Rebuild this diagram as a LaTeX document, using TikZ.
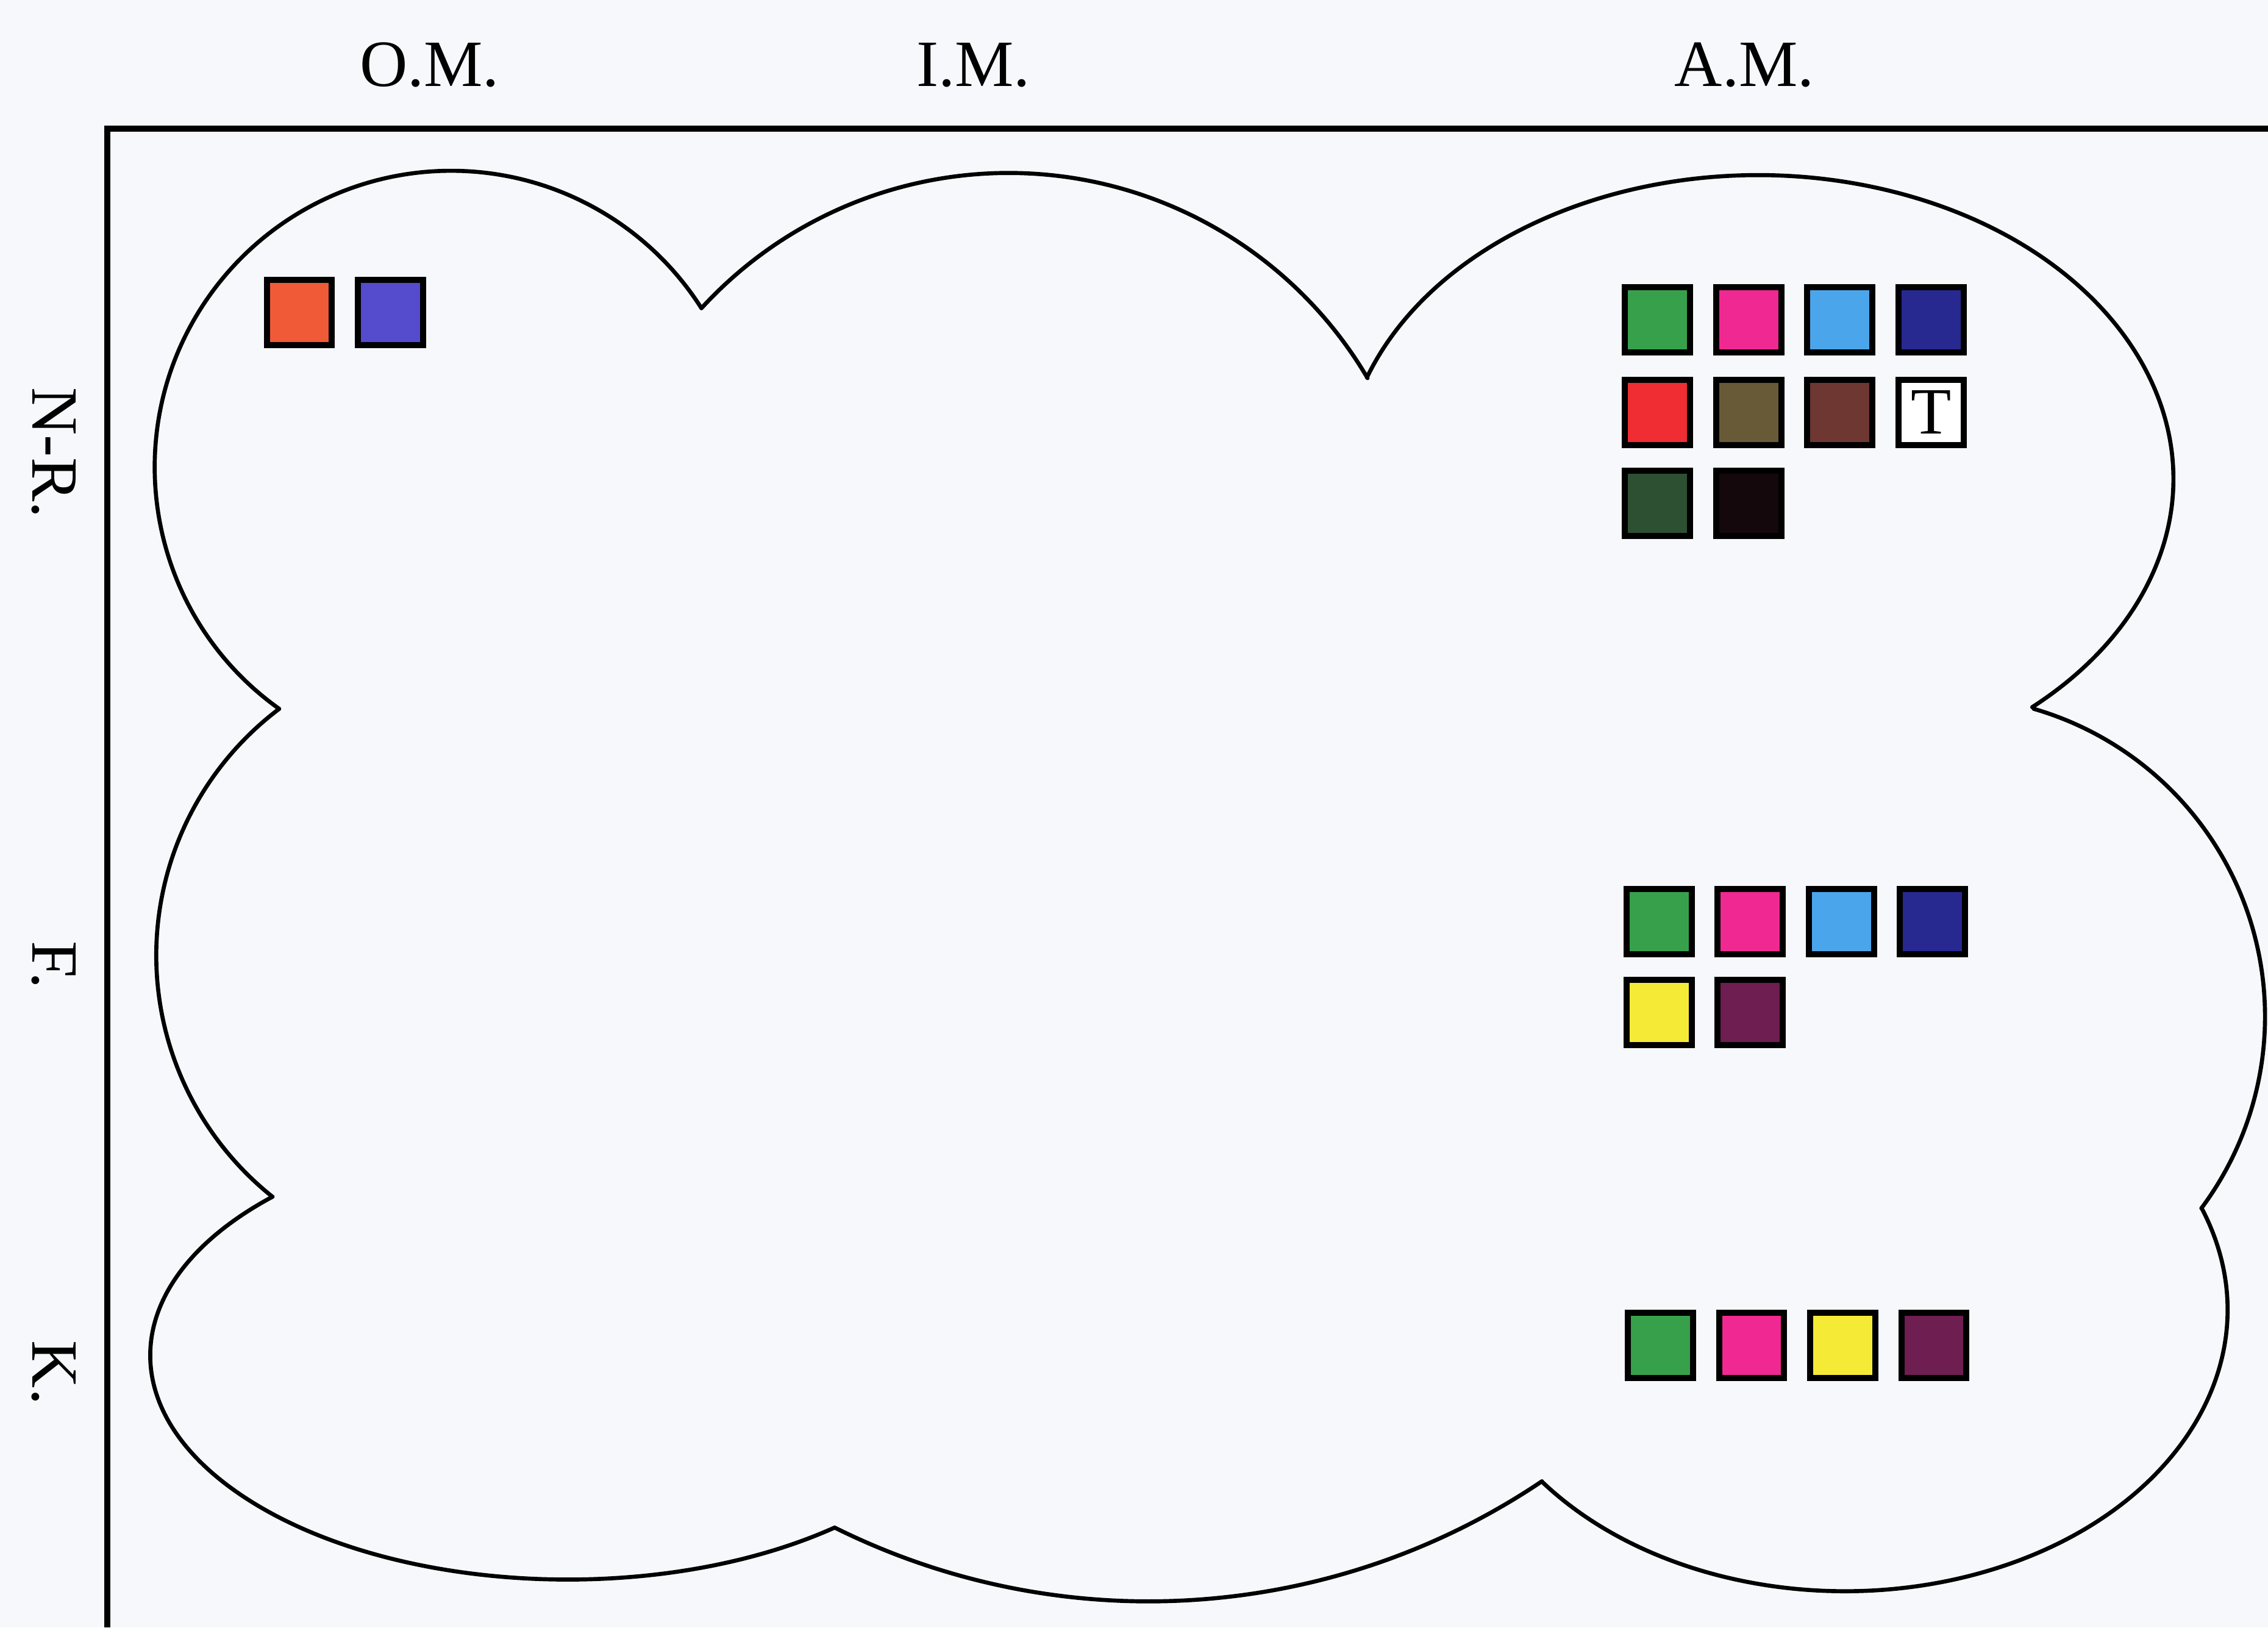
\documentclass[tikz,border=0pt]{standalone}
\usepackage{fontspec}
\setmainfont{Liberation Serif}
\usepackage{tikz}
\definecolor{PaperWhite}{RGB}{246,248,251}
\definecolor{ChipOrange}{RGB}{240,90,55}
\definecolor{ChipViolet}{RGB}{85,75,205}
\definecolor{ChipGreen}{RGB}{55,160,75}
\definecolor{ChipPink}{RGB}{240,40,145}
\definecolor{ChipSky}{RGB}{75,165,235}
\definecolor{ChipNavy}{RGB}{40,40,145}
\definecolor{ChipRed}{RGB}{240,45,50}
\definecolor{ChipOlive}{RGB}{105,90,55}
\definecolor{ChipBrown}{RGB}{110,55,50}
\definecolor{ChipForest}{RGB}{45,80,50}
\definecolor{ChipBlack}{RGB}{20,8,12}
\definecolor{ChipYellow}{RGB}{245,235,55}
\definecolor{ChipPlum}{RGB}{110,30,80}
\tikzset{
    frameline/.style={line width=1.2pt,black},
    cloudline/.style={line width=0.8pt,black,line cap=round},
    chip/.style={draw=black,line width=1.2pt,minimum width=4.5mm,minimum height=4.5mm,inner sep=0pt},
    axislabel/.style={font=\fontsize{13}{15}\selectfont,inner sep=0pt}
}
\begin{document}
\begin{tikzpicture}
\useasboundingbox (0,0) rectangle (15.68,11.25);
\fill[PaperWhite] (0,0) rectangle (15.68,11.25);

				% frame
				\coordinate (frameTL) at (0.74,10.36);
				\coordinate (frameTR) at (15.68,10.36);
				\coordinate (frameBL) at (0.74,0);
				\draw[frameline] (frameBL) -- (frameTL) -- (frameTR);
				
				% cloud cusps
				\coordinate (c1) at (4.85,9.12);
				\coordinate (c2) at (9.45,8.64);
				\coordinate (c3) at (14.06,6.35);
				\coordinate (c4) at (15.22,2.90);
				\coordinate (c5) at (10.66,1.01);
				\coordinate (c6) at (5.77,0.69);
				\coordinate (c7) at (1.88,2.98);
				\coordinate (c8) at (1.93,6.35);
				
				% cloud bumps, clockwise
				\draw[cloudline] (c8) arc[start angle=234.53,end angle=32.45,radius=2.05];
				\draw[cloudline] (c1) arc[start angle=137.5,end angle=30.5,radius=2.88];
				\draw[cloudline] (c2) arc[start angle=160.5,end angle=-48.7,x radius=2.87,y radius=2.10];
				\draw[cloudline] (c3) arc[start angle=73.86,end angle=-36.74,radius=2.215];
				\draw[cloudline] (c4) arc[start angle=21.25,end angle=-142.4,x radius=2.645,y radius=1.945];
				\draw[cloudline] (c5) arc[start angle=-56.05,end angle=-116.46,radius=4.87];
				\draw[cloudline] (c6) arc[start angle=-50.2,end angle=-225.03,x radius=2.885,y radius=1.55];
				\draw[cloudline] (c7) arc[start angle=231.3,end angle=127.0,radius=2.134];
				
				% column and row labels
				\node[axislabel] (lblOM) at (2.97,10.80) {O.M.};
				\node[axislabel] (lblIM) at (6.73,10.80) {I.M.};
				\node[axislabel] (lblAM) at (12.06,10.80) {A.M.};
				\node[axislabel,rotate=-90] (lblNR) at (0.37,8.12) {N-R.};
				\node[axislabel,rotate=-90] (lblF) at (0.37,4.58) {F.};
				\node[axislabel,rotate=-90] (lblK) at (0.37,1.76) {K.};
				
				% O.M. chips
				\node[chip,fill=ChipOrange] (omOrange) at (2.07,9.09) {};
				\node[chip,fill=ChipViolet] (omViolet) at (2.70,9.09) {};
				
				% A.M. / N-R. chips
				\node[chip,fill=ChipGreen] (nrGreen) at (11.46,9.04) {};
				\node[chip,fill=ChipPink] (nrPink) at (12.09,9.04) {};
				\node[chip,fill=ChipSky] (nrSky) at (12.72,9.04) {};
				\node[chip,fill=ChipNavy] (nrNavy) at (13.35,9.04) {};
				\node[chip,fill=ChipRed] (nrRed) at (11.46,8.40) {};
				\node[chip,fill=ChipOlive] (nrOlive) at (12.09,8.40) {};
				\node[chip,fill=ChipBrown] (nrBrown) at (12.72,8.40) {};
				\node[chip,fill=white,font=\fontsize{13}{15}\selectfont] (nrT) at (13.35,8.40) {T};
				\node[chip,fill=ChipForest] (nrForest) at (11.46,7.77) {};
				\node[chip,fill=ChipBlack] (nrBlack) at (12.09,7.77) {};
				
				% A.M. / F. chips
				\node[chip,fill=ChipGreen] (fGreen) at (11.47,4.88) {};
				\node[chip,fill=ChipPink] (fPink) at (12.10,4.88) {};
				\node[chip,fill=ChipSky] (fSky) at (12.73,4.88) {};
				\node[chip,fill=ChipNavy] (fNavy) at (13.36,4.88) {};
				\node[chip,fill=ChipYellow] (fYellow) at (11.47,4.25) {};
				\node[chip,fill=ChipPlum] (fPlum) at (12.10,4.25) {};
				
				% A.M. / K. chips
				\node[chip,fill=ChipGreen] (kGreen) at (11.48,1.95) {};
				\node[chip,fill=ChipPink] (kPink) at (12.11,1.95) {};
				\node[chip,fill=ChipYellow] (kYellow) at (12.74,1.95) {};
				\node[chip,fill=ChipPlum] (kPlum) at (13.37,1.95) {};
\end{tikzpicture}
\end{document}
